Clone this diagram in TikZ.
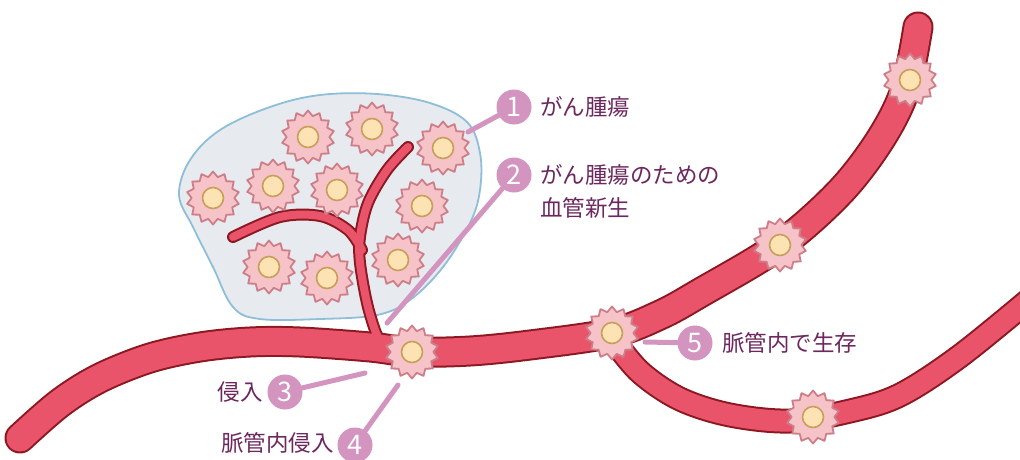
\documentclass[tikz,border=0pt]{standalone}
\usepackage{fontspec}
\newfontfamily\jp{Noto Sans CJK JP}
\usetikzlibrary{shapes.geometric}

\definecolor{vesselfill}{RGB}{233,84,107}
\definecolor{vesselline}{RGB}{140,24,34}
\definecolor{tumourfill}{RGB}{231,235,239}
\definecolor{tumourline}{RGB}{142,190,216}
\definecolor{cellfill}{RGB}{246,196,200}
\definecolor{cellline}{RGB}{206,126,136}
\definecolor{nucfill}{RGB}{253,226,180}
\definecolor{nucline}{RGB}{200,158,90}
\definecolor{labelpink}{RGB}{211,148,192}
\definecolor{labeltext}{RGB}{108,40,94}

\tikzset{
  cellstar/.style={star, star points=14, star point ratio=1.24, minimum size=53pt,
    inner sep=0pt, draw=cellline, fill=cellfill, line width=1.8pt, line join=round},
  nucleus/.style={circle, minimum size=21pt, inner sep=0pt, draw=nucline,
    fill=nucfill, line width=1.6pt},
  badge/.style={circle, fill=labelpink, minimum size=35pt, inner sep=0pt,
    text=white, font=\jp\fontsize{27}{27}\selectfont},
  caption/.style={text=labeltext, font=\jp\fontsize{22.5}{33}\selectfont,
    inner sep=0pt, align=left},
  leader/.style={draw=labelpink, line width=5pt, line cap=round},
}

\begin{document}
\begin{tikzpicture}[x=1pt, y=-1pt]
\clip (0,0) rectangle (1020,459);

% tumour mass
\draw[fill=tumourfill, draw=tumourline, line width=1.8pt]
  plot[smooth cycle, tension=0.6] coordinates {
    (179,195) (190,160) (220,130) (270,107) (320,95) (377,94) (430,103)
    (467,122) (480,153) (480,190) (470,223) (443,267) (410,300) (377,315)
    (320,319) (260,319) (233,307) (213,267) (193,227)};

% blood vessels: outlines first, then fills, so the joins merge
\foreach \mw/\bw/\tw/\c in {31/25/12/vesselline, 27/21/8/vesselfill}{
  % vessel feeding the tumour
  \draw[line width=\tw pt, \c, line cap=round]
    plot[smooth, tension=0.55] coordinates {
      (383,345) (376,333) (367,303) (360,263) (360,237) (368,203) (387,170) (408,147)};
  \draw[line width=\tw pt, \c, line cap=round]
    plot[smooth, tension=0.55] coordinates {
      (362,250) (348,230) (320,216) (280,217) (233,237)};
  % main vessel
  \draw[line width=\mw pt, \c, line cap=round]
    plot[smooth, tension=0.55] coordinates {
      (20,438) (60,403) (100,378) (150,358) (200,347) (250,342) (300,342)
      (370,347) (412,352) (470,351) (530,345) (612,333) (660,315) (700,293)
      (780,245) (840,192) (880,140) (905,90) (918,27)};
  % branch vessel
  \draw[line width=\bw pt, \c, line cap=round]
    plot[smooth, tension=0.55] coordinates {
      (612,338) (640,372) (680,399) (730,415) (790,421) (850,411) (900,395)
      (960,356) (1035,295)};
}

% numbered labels
\node[badge] (b1) at (514,107) {1};
\node[caption, anchor=west] (l1) at (540,107) {がん腫瘍};
\node[badge] (b2) at (514,175) {2};
\node[caption, anchor=west] (l2) at (540,191) {がん腫瘍のための\\血管新生};
\node[badge] (b3) at (285,392) {3};
\node[caption, anchor=east] (l3) at (263,392) {侵入};
\node[badge] (b4) at (355,445) {4};
\node[caption, anchor=east] (l4) at (334,443) {脈管内侵入};
\node[badge] (b5) at (695,343) {5};
\node[caption, anchor=west] (l5) at (722,343) {脈管内で生存};

\coordinate (p1) at (468,132);
\coordinate (p2) at (387,323);
\coordinate (p3) at (365,373);
\coordinate (p4) at (398,385);
\coordinate (p5) at (645,342);
\foreach \i in {1,...,5}{ \draw[leader] (b\i) -- (p\i); }

% cancer cells
\foreach \n/\x/\y in {t1/308/137, t2/372/129, t3/443/148, t4/213/198,
    t5/273/186, t6/337/190, t7/422/206, t8/269/267, t9/327/278, t10/398/260,
    v1/412/352, v2/612/333, v3/780/245, v4/910/80, v5/813/417}{
  \node[cellstar] (\n) at (\x,\y) {};
  \node[nucleus] (\n-core) at (\n) {};
}
\end{tikzpicture}
\end{document}
